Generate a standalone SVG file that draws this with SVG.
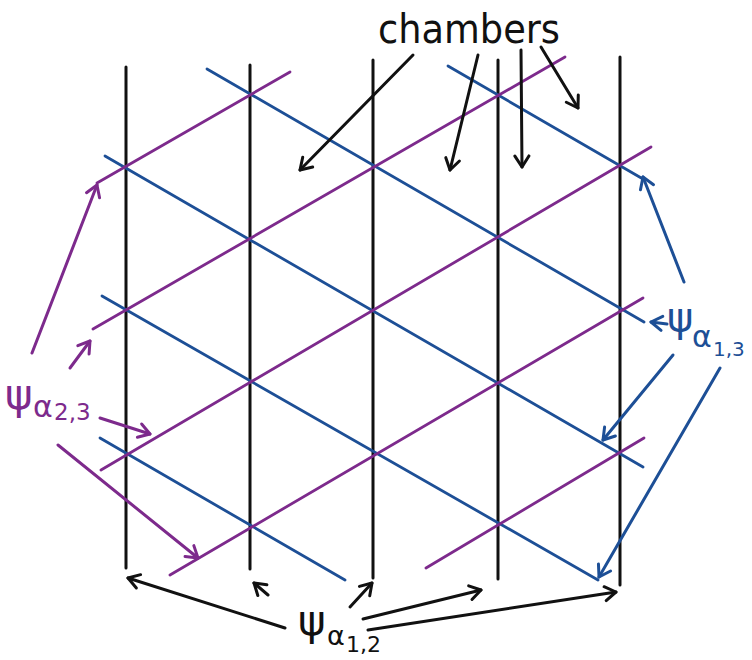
<svg xmlns="http://www.w3.org/2000/svg" width="752" height="660" viewBox="0 0 752 660">
<style>
.k{stroke:#111;stroke-width:3;fill:none;stroke-linecap:round}
.b{stroke:#1d4f96;stroke-width:2.8;fill:none;stroke-linecap:round}
.p{stroke:#7d2a8c;stroke-width:2.8;fill:none;stroke-linecap:round}
.ak{stroke:#111;stroke-width:3;fill:none;stroke-linecap:round;marker-end:url(#mk)}
.ab{stroke:#1d4f96;stroke-width:3;fill:none;stroke-linecap:round;marker-end:url(#mb)}
.ap{stroke:#7d2a8c;stroke-width:3;fill:none;stroke-linecap:round;marker-end:url(#mp)}
text{font-family:"DejaVu Sans","Liberation Sans",sans-serif}
</style>
<defs>
<marker id="mk" viewBox="-14 -9 16 18" refX="0" refY="0" markerWidth="16" markerHeight="18" markerUnits="userSpaceOnUse" orient="auto"><path d="M-11,-7 L0,0 L-11,7" fill="none" stroke="#111" stroke-width="3" stroke-linecap="round" stroke-linejoin="round"/></marker>
<marker id="mb" viewBox="-14 -9 16 18" refX="0" refY="0" markerWidth="16" markerHeight="18" markerUnits="userSpaceOnUse" orient="auto"><path d="M-11,-7 L0,0 L-11,7" fill="none" stroke="#1d4f96" stroke-width="3" stroke-linecap="round" stroke-linejoin="round"/></marker>
<marker id="mp" viewBox="-14 -9 16 18" refX="0" refY="0" markerWidth="16" markerHeight="18" markerUnits="userSpaceOnUse" orient="auto"><path d="M-11,-7 L0,0 L-11,7" fill="none" stroke="#7d2a8c" stroke-width="3" stroke-linecap="round" stroke-linejoin="round"/></marker>
</defs>
<rect width="752" height="660" fill="#fff"/>
<g id="walls-a12">
<line class="k" x1="126" y1="67" x2="126" y2="568"/>
<line class="k" x1="250" y1="65" x2="250" y2="569"/>
<line class="k" x1="373" y1="60" x2="373" y2="578"/>
<line class="k" x1="498" y1="60" x2="498" y2="579"/>
<line class="k" x1="620" y1="57" x2="620" y2="585"/>
</g>
<g id="walls-a13">
<line class="b" x1="207" y1="69" x2="644" y2="322"/>
<line class="b" x1="448" y1="66" x2="643" y2="179"/>
<line class="b" x1="105" y1="156" x2="643" y2="467"/>
<line class="b" x1="102" y1="296" x2="598" y2="580"/>
<line class="b" x1="100" y1="438" x2="345" y2="580"/>
</g>
<g id="walls-a23">
<line class="p" x1="97" y1="183" x2="290" y2="72"/>
<line class="p" x1="93" y1="329" x2="565" y2="57"/>
<line class="p" x1="101" y1="470" x2="651" y2="147"/>
<line class="p" x1="170" y1="575" x2="643" y2="298"/>
<line class="p" x1="426" y1="568" x2="644" y2="438"/>
</g>
<g id="label-chambers">
<text x="378" y="43" font-size="40" fill="#111" textLength="182" lengthAdjust="spacingAndGlyphs">chambers</text>
</g>
<g id="label-psi12">
<text fill="#111"><tspan x="298" y="635" font-size="42">ψ</tspan><tspan x="327" y="645" font-size="27">α</tspan><tspan x="346" y="652" font-size="22">1,2</tspan></text>
</g>
<g id="label-psi23">
<text fill="#7d2a8c"><tspan x="5" y="409" font-size="42">ψ</tspan><tspan x="33" y="417" font-size="30">α</tspan><tspan x="54" y="420" font-size="23">2,3</tspan></text>
</g>
<g id="label-psi13">
<text fill="#1d4f96"><tspan x="667" y="331" font-size="40">ψ</tspan><tspan x="692" y="347" font-size="30">α</tspan><tspan x="713" y="356" font-size="20">1,3</tspan></text>
</g>
<g id="connectors">
<line class="ak" x1="413" y1="55" x2="300" y2="170"/>
<line class="ak" x1="478" y1="55" x2="450" y2="170"/>
<line class="ak" x1="521" y1="50" x2="522" y2="167"/>
<line class="ak" x1="541" y1="47" x2="578" y2="108"/>
<line class="ak" x1="285" y1="628" x2="128" y2="578"/>
<line class="ak" x1="268" y1="595" x2="254" y2="583"/>
<line class="ak" x1="350" y1="607" x2="372" y2="583"/>
<line class="ak" x1="363" y1="619" x2="481" y2="590"/>
<line class="ak" x1="368" y1="630" x2="616" y2="592"/>
<line class="ap" x1="32" y1="353" x2="97" y2="185"/>
<line class="ap" x1="70" y1="368" x2="90" y2="341"/>
<line class="ap" x1="100" y1="418" x2="150" y2="434"/>
<line class="ap" x1="58" y1="445" x2="198" y2="558"/>
<line class="ab" x1="684" y1="282" x2="643" y2="177"/>
<line class="ab" x1="667" y1="324" x2="651" y2="322"/>
<line class="ab" x1="673" y1="355" x2="603" y2="440"/>
<line class="ab" x1="720" y1="368" x2="599" y2="577"/>
</g>
</svg>
